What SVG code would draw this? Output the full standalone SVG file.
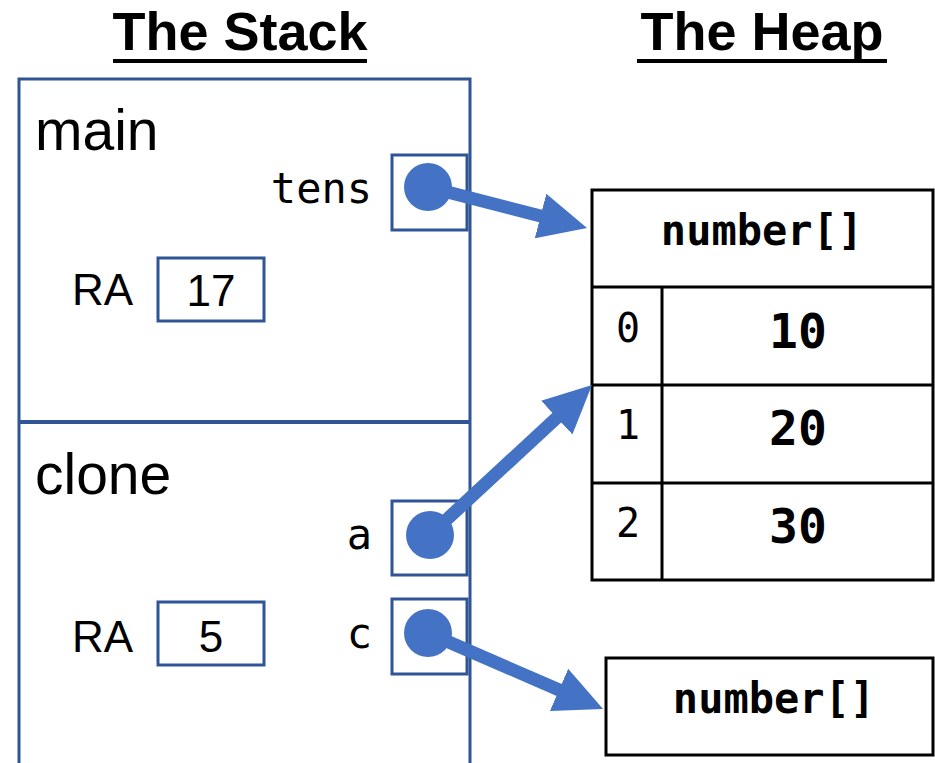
<svg xmlns="http://www.w3.org/2000/svg" width="935" height="763" viewBox="0 0 935 763">
  <style>
    .title { font-family: "Liberation Sans", Arial, sans-serif; font-weight: bold; font-size: 54px; fill: #000; }
    .frame-name { font-family: "Liberation Sans", Arial, sans-serif; font-size: 57px; fill: #000; }
    .label { font-family: "Liberation Sans", Arial, sans-serif; font-size: 44px; fill: #000; }
    .mono { font-family: "DejaVu Sans Mono", "Liberation Mono", monospace; font-size: 42px; fill: #000; }
    .mono-b { font-family: "DejaVu Sans Mono", "Liberation Mono", monospace; font-weight: bold; font-size: 42px; fill: #000; }
    .val { font-family: "DejaVu Sans Mono", "Liberation Mono", monospace; font-weight: bold; font-size: 48px; fill: #000; }
    .idx { font-family: "DejaVu Sans Mono", "Liberation Mono", monospace; font-size: 40px; fill: #000; }
    .frame { fill: none; stroke: #2F5597; stroke-width: 3; }
    .slot { fill: #fff; stroke: #2F5597; stroke-width: 3; }
    .cell { fill: #fff; stroke: #000; stroke-width: 3; }
    .ptr { stroke: #4472C4; stroke-width: 13; fill: none; marker-end: url(#head); }
    .dot { fill: #4472C4; }
  </style>
  <defs>
    <marker id="head" viewBox="0 0 48 46" refX="4" refY="23" markerWidth="48" markerHeight="46" markerUnits="userSpaceOnUse" orient="auto">
      <path d="M0,0 L48,23 L0,46 Z" fill="#4472C4"/>
    </marker>
  </defs>

  <rect width="935" height="763" fill="#fff"/>

  <!-- headings -->
  <g id="heading-stack">
    <text class="title" x="240" y="50" text-anchor="middle">The Stack</text>
    <line x1="113" y1="61" x2="367" y2="61" stroke="#000" stroke-width="4"/>
  </g>
  <g id="heading-heap">
    <text class="title" x="762" y="50" text-anchor="middle" font-size="55">The Heap</text>
    <line x1="637" y1="61" x2="887" y2="61" stroke="#000" stroke-width="4"/>
  </g>

  <!-- stack frames -->
  <g id="stack">
    <path class="frame" d="M19,763 V79 H470 V763"/>
    <line x1="19" y1="422" x2="470" y2="422" stroke="#2F5597" stroke-width="4"/>
  </g>

  <g id="frame-main">
    <text class="frame-name" x="35" y="150">main</text>
    <text class="mono" x="372" y="203" text-anchor="end">tens</text>
    <rect id="slot-tens" class="slot" x="392" y="155" width="75" height="75"/>
    <text class="label" x="72" y="305">RA</text>
    <rect class="slot" x="158" y="258" width="106" height="63"/>
    <text class="label" x="211" y="306" text-anchor="middle">17</text>
  </g>

  <g id="frame-clone">
    <text class="frame-name" x="35" y="494">clone</text>
    <text class="mono" x="372" y="549" text-anchor="end">a</text>
    <rect id="slot-a" class="slot" x="392" y="501" width="75" height="74"/>
    <text class="mono" x="372" y="648" text-anchor="end">c</text>
    <rect id="slot-c" class="slot" x="392" y="599" width="75" height="75"/>
    <text class="label" x="72" y="652">RA</text>
    <rect class="slot" x="158" y="602" width="106" height="63"/>
    <text class="label" x="211" y="652" text-anchor="middle">5</text>
  </g>

  <!-- heap array with three elements -->
  <g id="heap-array">
    <rect class="cell" x="592" y="190" width="341" height="390"/>
    <line x1="592" y1="287" x2="933" y2="287" stroke="#000" stroke-width="3"/>
    <line x1="592" y1="385" x2="933" y2="385" stroke="#000" stroke-width="3"/>
    <line x1="592" y1="483" x2="933" y2="483" stroke="#000" stroke-width="3"/>
    <line x1="662" y1="287" x2="662" y2="580" stroke="#000" stroke-width="3"/>
    <text class="mono-b" x="762" y="245" text-anchor="middle">number[]</text>
    <text class="idx" x="628" y="342" text-anchor="middle">0</text>
    <text class="idx" x="628" y="439" text-anchor="middle">1</text>
    <text class="idx" x="628" y="537" text-anchor="middle">2</text>
    <text class="val" x="798" y="348" text-anchor="middle">10</text>
    <text class="val" x="798" y="445" text-anchor="middle">20</text>
    <text class="val" x="798" y="543" text-anchor="middle">30</text>
  </g>

  <!-- heap array, empty -->
  <g id="heap-array-empty">
    <rect class="cell" x="606" y="658" width="327" height="97"/>
    <text class="mono-b" x="774" y="713" text-anchor="middle">number[]</text>
  </g>

  <!-- references from stack slots into the heap -->
  <g id="connectors">
    <line class="ptr" x1="428" y1="187" x2="544.4" y2="217"/>
    <circle class="dot" cx="428" cy="187" r="24"/>
    <line class="ptr" x1="430" y1="535" x2="559.7" y2="414.9"/>
    <circle class="dot" cx="430" cy="535" r="24"/>
    <line class="ptr" x1="428" y1="633" x2="562.7" y2="691.5"/>
    <circle class="dot" cx="428" cy="633" r="24"/>
  </g>
</svg>
